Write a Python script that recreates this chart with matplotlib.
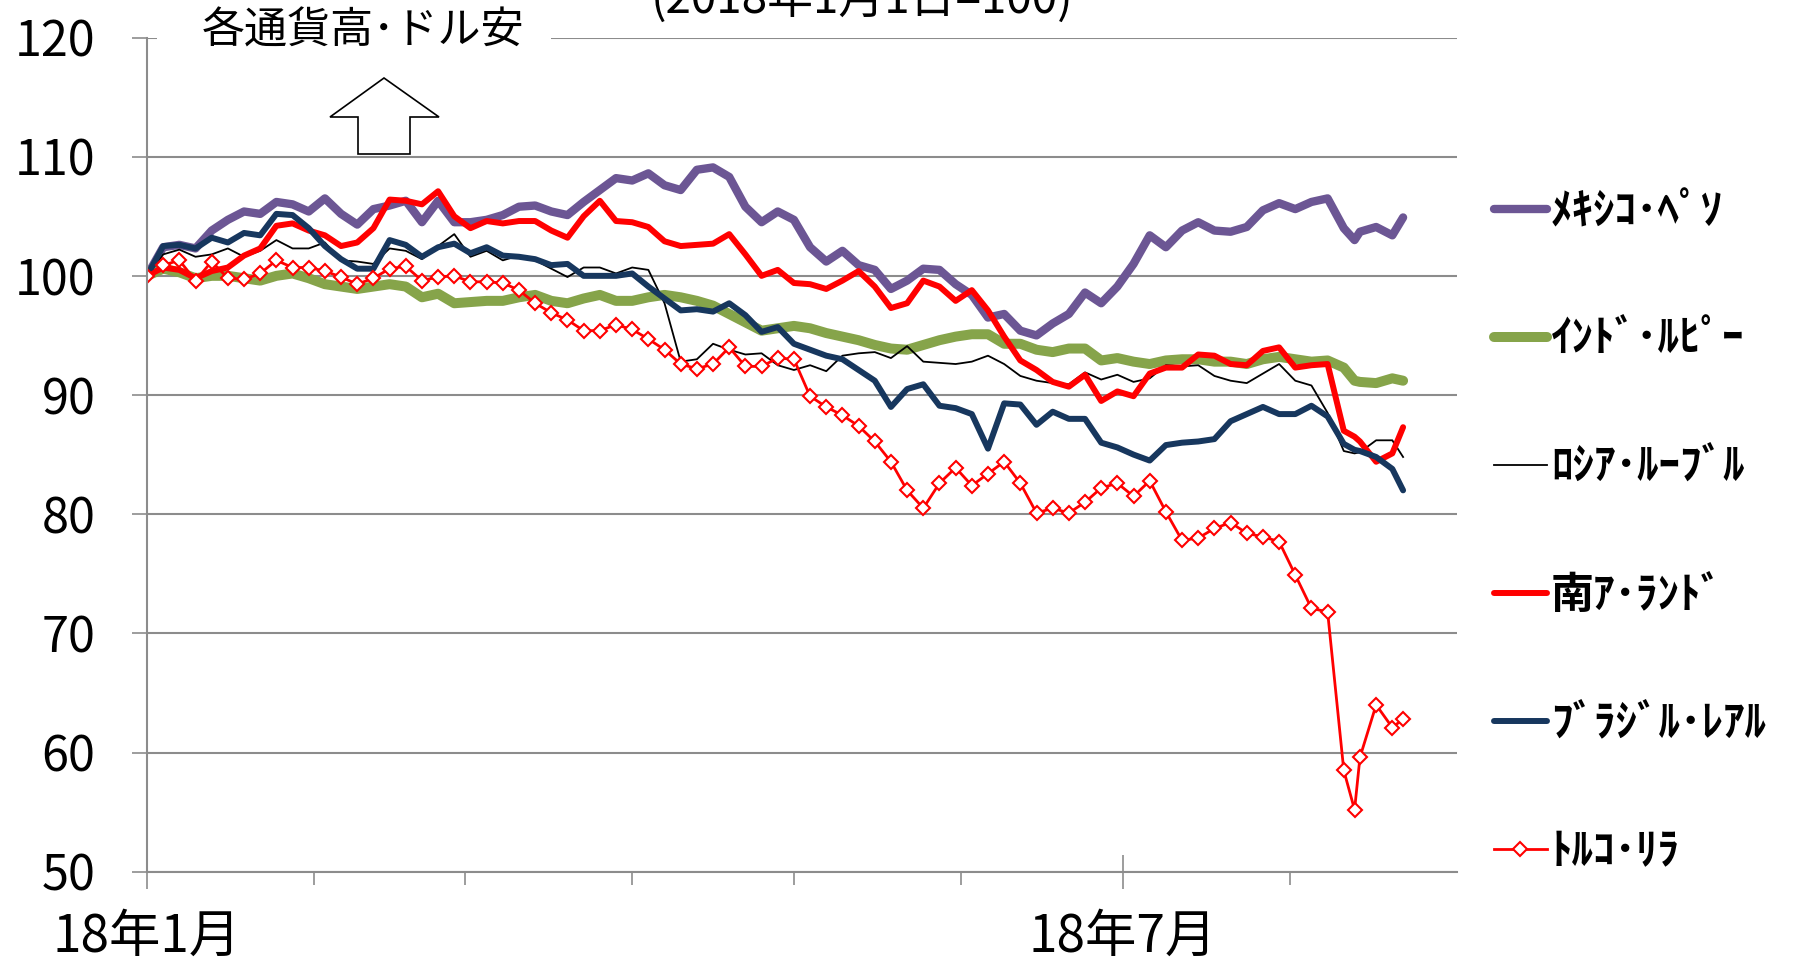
import matplotlib
matplotlib.use('Agg')
import matplotlib.pyplot as plt
import matplotlib.dates as mdates
from matplotlib.patches import Polygon, Rectangle
from matplotlib.ticker import FuncFormatter
import pandas as pd

plt.rcParams['font.family'] = ['Noto Sans CJK JP', 'DejaVu Sans']

# 3日おきの日付 + 8/13(リラ急落), 8/22(最終日)
dates = pd.date_range('2018-01-01', periods=78, freq='3D').append(
    pd.DatetimeIndex(['2018-08-13', '2018-08-22'])).sort_values()

# 2018年1月1日=100
mxn = [100.0, 102.4, 102.6, 102.3, 103.8, 104.7, 105.4, 105.2, 106.2, 106.0,
       105.4, 106.5, 105.2, 104.3, 105.6, 105.9, 106.3, 104.5, 106.3, 104.5,
       104.5, 104.7, 105.1, 105.8, 105.9, 105.4, 105.1, 106.2, 107.2, 108.2,
       108.0, 108.6, 107.6, 107.2, 108.9, 109.1, 108.3, 105.8, 104.5, 105.4,
       104.7, 102.4, 101.2, 102.1, 100.9, 100.5, 98.9, 99.6, 100.6, 100.5,
       99.3, 98.4, 96.5, 96.8, 95.4, 95.0, 96.0, 96.8, 98.6, 97.7,
       99.1, 101.0, 103.4, 102.4, 103.8, 104.5, 103.8, 103.7, 104.1, 105.5,
       106.1, 105.6, 106.2, 106.5, 104.0, 103.0, 103.7, 104.1, 103.4, 104.9]
inr = [100.0, 100.6, 100.3, 99.8, 100.0, 100.0, 99.8, 99.6, 100.0, 100.2,
       99.8, 99.3, 99.1, 98.9, 99.1, 99.3, 99.1, 98.2, 98.5, 97.7,
       97.8, 97.9, 97.9, 98.2, 98.4, 97.9, 97.7, 98.1, 98.4, 97.9,
       97.9, 98.2, 98.4, 98.2, 97.9, 97.5, 96.8, 96.1, 95.4, 95.6,
       95.8, 95.6, 95.2, 94.9, 94.6, 94.2, 93.9, 93.8, 94.2, 94.6,
       94.9, 95.1, 95.1, 94.3, 94.3, 93.8, 93.6, 93.9, 93.9, 92.9,
       93.1, 92.8, 92.6, 92.9, 93.0, 93.0, 92.8, 92.8, 92.6, 93.0,
       93.2, 93.0, 92.8, 92.9, 92.3, 91.2, 91.1, 91.0, 91.4, 91.2]
rub = [100.0, 101.8, 102.2, 101.6, 101.8, 102.3, 101.6, 102.1, 103.0, 102.3,
       102.3, 102.8, 101.3, 101.2, 101.0, 102.3, 102.1, 101.4, 102.5, 103.5,
       101.6, 102.1, 101.3, 101.7, 101.3, 100.6, 99.9, 100.7, 100.7, 100.2,
       100.7, 100.5, 97.7, 92.8, 93.0, 94.3, 93.8, 93.4, 93.5, 92.5,
       92.1, 92.5, 92.0, 93.3, 93.5, 93.6, 93.1, 94.1, 92.8, 92.7,
       92.6, 92.8, 93.3, 92.6, 91.6, 91.2, 91.0, 90.9, 91.9, 91.3,
       91.7, 91.1, 91.4, 92.5, 92.4, 92.5, 91.6, 91.2, 91.0, 91.8,
       92.6, 91.2, 90.8, 88.5, 85.3, 85.1, 85.2, 86.2, 86.2, 84.8]
zar = [100.0, 100.7, 100.5, 99.8, 100.4, 100.7, 101.7, 102.3, 104.2, 104.4,
       103.8, 103.4, 102.5, 102.8, 104.0, 106.4, 106.3, 106.0, 107.1, 105.0,
       104.0, 104.6, 104.4, 104.6, 104.6, 103.8, 103.2, 105.0, 106.3, 104.6,
       104.5, 104.1, 102.9, 102.5, 102.6, 102.7, 103.5, 101.8, 100.0, 100.5,
       99.4, 99.3, 98.9, 99.6, 100.4, 99.1, 97.3, 97.7, 99.6, 99.1,
       97.9, 98.8, 97.1, 94.9, 92.9, 92.1, 91.1, 90.7, 91.7, 89.5,
       90.3, 89.9, 91.8, 92.3, 92.3, 93.4, 93.3, 92.6, 92.5, 93.7,
       94.0, 92.3, 92.5, 92.6, 87.0, 86.5, 86.1, 84.4, 85.1, 87.3]
brl = [100.0, 102.5, 102.6, 102.3, 103.2, 102.8, 103.6, 103.4, 105.2, 105.1,
       104.0, 102.5, 101.4, 100.6, 100.6, 103.0, 102.6, 101.6, 102.4, 102.7,
       101.9, 102.4, 101.7, 101.6, 101.4, 100.9, 101.0, 100.0, 100.0, 100.0,
       100.2, 99.1, 98.1, 97.1, 97.2, 97.0, 97.7, 96.7, 95.3, 95.7,
       94.3, 93.8, 93.3, 93.0, 92.1, 91.2, 89.0, 90.5, 90.9, 89.1,
       88.9, 88.4, 85.5, 89.3, 89.2, 87.5, 88.6, 88.0, 88.0, 86.0,
       85.6, 85.0, 84.5, 85.8, 86.0, 86.1, 86.3, 87.8, 88.4, 89.0,
       88.4, 88.4, 89.1, 88.2, 85.9, 85.4, 85.3, 84.8, 83.8, 82.0]
tryl = [100.0, 100.9, 101.3, 99.6, 101.2, 99.8, 99.7, 100.2, 101.3, 100.7,
        100.7, 100.4, 99.9, 99.3, 99.8, 100.6, 100.8, 99.6, 99.9, 100.0,
        99.5, 99.5, 99.4, 98.8, 97.7, 96.9, 96.3, 95.4, 95.4, 95.9,
        95.5, 94.7, 93.8, 92.6, 92.2, 92.6, 94.0, 92.4, 92.4, 93.1,
        93.0, 89.9, 89.0, 88.3, 87.4, 86.1, 84.4, 82.0, 80.5, 82.6,
        83.9, 82.4, 83.4, 84.4, 82.6, 80.1, 80.5, 80.1, 81.0, 82.2,
        82.6, 81.5, 82.8, 80.2, 77.8, 78.0, 78.8, 79.3, 78.4, 78.1,
        77.7, 74.9, 72.1, 71.8, 58.5, 55.2, 59.6, 64.0, 62.1, 62.8]

W, H = 1798, 967
fig = plt.figure(figsize=(W / 100, H / 100), dpi=100)
ax = fig.add_axes([147 / W, 1 - 871.7 / H, (1457 - 147) / W, (871.7 - 37.5) / H])

rnd = dict(solid_joinstyle='round', solid_capstyle='round')
ax.plot(dates, mxn, color='#6C5694', lw=6, label='ﾒｷｼｺ･ﾍﾟｿ', **rnd)
ax.plot(dates, inr, color='#86A44A', lw=7.2, label='ｲﾝﾄﾞ･ﾙﾋﾟｰ', **rnd)
ax.plot(dates, rub, color='black', lw=1.3, label='ﾛｼｱ･ﾙｰﾌﾞﾙ')
ax.plot(dates, zar, color='#FF0000', lw=4.3, label='南ｱ･ﾗﾝﾄﾞ', **rnd)
ax.plot(dates, brl, color='#17375E', lw=4.3, label='ﾌﾞﾗｼﾞﾙ･ﾚｱﾙ', **rnd)
ax.plot(dates, tryl, color='#FF0000', lw=2, marker='D', ms=7.5, mfc='white',
        mec='#FF0000', mew=1.5, label='ﾄﾙｺ･ﾘﾗ')

grid_c = '#8C8C8C'
ax.set_ylim(50, 120)
ax.set_xlim(pd.Timestamp('2018-01-01'), pd.Timestamp('2018-09-01'))
ax.set_yticks(range(50, 121, 10))
ax.yaxis.grid(True, color=grid_c, lw=1.5)
for s in ['top', 'right']:
    ax.spines[s].set_visible(False)
for s in ['left', 'bottom']:
    ax.spines[s].set_color(grid_c)
    ax.spines[s].set_linewidth(1.5)

ax.xaxis.set_major_locator(mdates.MonthLocator(bymonth=[1, 7]))
ax.xaxis.set_minor_locator(mdates.MonthLocator(bymonth=range(1, 9)))
ax.xaxis.set_major_formatter(FuncFormatter(
    lambda x, pos: f'{mdates.num2date(x).year % 100}年{mdates.num2date(x).month}月'))
ax.tick_params(axis='y', direction='out', length=11, width=1.2, color=grid_c,
               labelsize=35, pad=26)
ax.tick_params(axis='x', which='major', direction='inout', length=24, width=1.2,
               color=grid_c, labelsize=37, pad=16)
ax.tick_params(axis='x', which='minor', direction='out', length=9, width=1.2,
               color=grid_c)

ax.legend(loc='upper left', bbox_to_anchor=(1494 / W, 1 - 189 / H),
          bbox_transform=fig.transFigure, frameon=False,
          prop={'size': 31, 'weight': 'bold'}, handlelength=1.22,
          handletextpad=0.1, labelspacing=1.95, borderpad=0, borderaxespad=0)

# 見出し
fig.text(862 / W, 1 - 13 / H, '(2018年1月1日=100)', ha='center', va='baseline',
         fontsize=33)
fig.add_artist(Rectangle((157 / W, 1 - 56 / H), (551 - 157) / W, 38 / H,
                         transform=fig.transFigure, fc='white', ec='none', zorder=2))
fig.text(363 / W, 1 - 32 / H, '各通貨高･ドル安', ha='center', va='center',
         fontsize=31, zorder=3)

# 上向き矢印
pts = [(384, 78), (439, 117), (410, 117), (410, 154), (358, 154), (358, 117), (330, 117)]
fig.add_artist(Polygon([(x / W, 1 - y / H) for x, y in pts], closed=True,
                       transform=fig.transFigure, fc='white', ec='black', lw=1.2, zorder=3))

fig.savefig('out.png', dpi=100)
